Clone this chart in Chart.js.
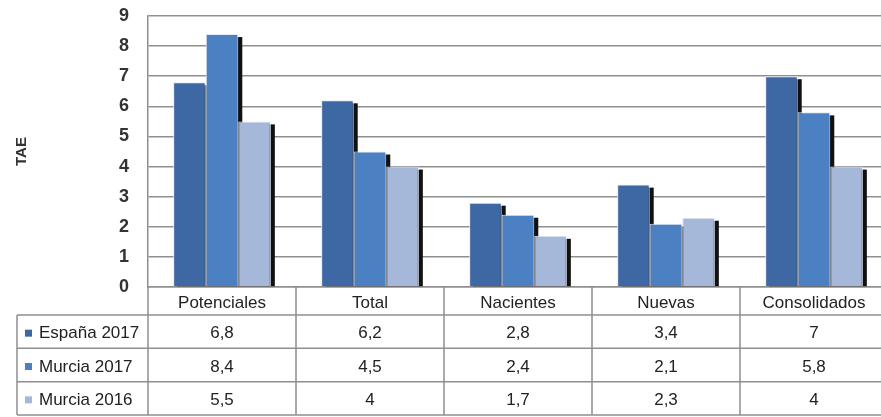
<!DOCTYPE html>
<html>
<head>
<meta charset="utf-8">
<script src="https://cdn.jsdelivr.net/npm/chart.js@4.4.1/dist/chart.umd.min.js"></script>
<style>
  html, body { margin: 0; padding: 0; background: #fff; overflow: hidden; }
  #wrap { width: 888px; height: 417px; }
</style>
</head>
<body>
<div id="wrap"><canvas id="my-chart"></canvas></div>
<script>
const categories = ['Potenciales', 'Total', 'Nacientes', 'Nuevas', 'Consolidados'];
const seriesNames = ['España 2017', 'Murcia 2017', 'Murcia 2016'];
const espana2017 = [6.8, 6.2, 2.8, 3.4, 7];
const murcia2017 = [8.4, 4.5, 2.4, 2.1, 5.8];
const murcia2016 = [5.5, 4, 1.7, 2.3, 4];
const yTicks = [0, 1, 2, 3, 4, 5, 6, 7, 8, 9];

const colors = ['#3d68a3', '#4b80c3', '#a5b8d9'];
const lineColor = '#8f8f8f';
const textFont = '17px "Liberation Sans", Arial, sans-serif';

// black drop shadow behind each bar (drawn before the bars)
const shadowPlugin = {
  id: 'barShadow',
  beforeDatasetsDraw(chart) {
    const ctx = chart.ctx;
    ctx.save();
    ctx.fillStyle = '#111';
    chart.data.datasets.forEach((ds, i) => {
      chart.getDatasetMeta(i).data.forEach(bar => {
        const w = bar.width;
        const top = bar.y + 3;
        ctx.fillRect(bar.x - w / 2 + 4, top, w, bar.base - top);
      });
    });
    ctx.restore();
  }
};

// data table under the x axis
const tablePlugin = {
  id: 'dataTable',
  afterDraw(chart) {
    const ctx = chart.ctx;
    const xs = chart.scales.x;
    const area = chart.chartArea;
    const headBottom = xs.bottom;
    const rowH = (chart.height - headBottom - 2) / seriesNames.length;
    const tableBottom = headBottom + rowH * seriesNames.length;
    const half = (xs.getPixelForValue(1) - xs.getPixelForValue(0)) / 2;
    const legendLeft = 17;
    const rows = [espana2017, murcia2017, murcia2016];

    ctx.save();
    ctx.strokeStyle = lineColor;
    ctx.lineWidth = 1.5;
    ctx.beginPath();
    // column separators
    for (let i = 0; i <= categories.length; i++) {
      const x = xs.getPixelForValue(0) - half + i * half * 2;
      ctx.moveTo(x, area.bottom);
      ctx.lineTo(x, tableBottom);
    }
    ctx.moveTo(legendLeft, headBottom);
    ctx.lineTo(legendLeft, tableBottom);
    // row lines
    for (let r = 0; r <= rows.length; r++) {
      const y = headBottom + r * rowH;
      ctx.moveTo(legendLeft, y);
      ctx.lineTo(area.right, y);
    }
    ctx.stroke();

    ctx.font = textFont;
    ctx.textBaseline = 'middle';
    rows.forEach((vals, r) => {
      const yc = headBottom + r * rowH + rowH / 2 + 2;
      ctx.fillStyle = colors[r];
      ctx.fillRect(legendLeft + 8, yc - 4, 7, 7);
      ctx.fillStyle = '#222';
      ctx.textAlign = 'left';
      ctx.fillText(seriesNames[r], legendLeft + 22, yc);
      ctx.textAlign = 'center';
      vals.forEach((v, i) => {
        ctx.fillText(String(v).replace('.', ','), xs.getPixelForValue(i), yc);
      });
    });
    ctx.restore();
  }
};

const ctx = document.getElementById('my-chart').getContext('2d');
const chart = new Chart(ctx, {
  type: 'bar',
  data: {
    labels: categories,
    datasets: [espana2017, murcia2017, murcia2016].map((vals, i) => ({
      label: seriesNames[i],
      data: vals,
      backgroundColor: colors[i],
      borderColor: '#e2e9f4',
      borderWidth: 1,
      barPercentage: 1,
      categoryPercentage: 0.66
    }))
  },
  options: {
    responsive: true,
    maintainAspectRatio: false,
    animation: false,
    layout: { padding: { top: 16, right: 0, bottom: 102, left: 0 } },
    plugins: { legend: { display: false }, tooltip: { enabled: false } },
    scales: {
      x: {
        grid: { display: false },
        border: { display: true, color: lineColor, width: 1.5 },
        ticks: { color: '#222', font: { size: 17, family: '"Liberation Sans", Arial, sans-serif' }, padding: -2 },
        afterFit(scale) { scale.height = 28; scale.paddingLeft = 0; scale.paddingRight = 0; }
      },
      y: {
        min: 0,
        max: 9,
        afterBuildTicks(scale) { scale.ticks = yTicks.map(v => ({ value: v })); },
        grid: { color: lineColor, lineWidth: 1.5, drawTicks: false },
        border: { display: true, color: lineColor, width: 1.5 },
        ticks: { color: '#333', font: { size: 18, weight: 'bold', family: '"Liberation Sans", Arial, sans-serif' }, padding: 19 },
        title: {
          display: true,
          text: 'TAE',
          color: '#333',
          font: { size: 15, weight: 'bold', family: '"Liberation Sans", Arial, sans-serif' },
          padding: { top: 13, bottom: 0 }
        },
        afterFit(scale) { scale.width = 148; scale.paddingTop = 0; scale.paddingBottom = 0; }
      }
    }
  },
  plugins: [shadowPlugin, tablePlugin]
});
</script>
</body>
</html>
